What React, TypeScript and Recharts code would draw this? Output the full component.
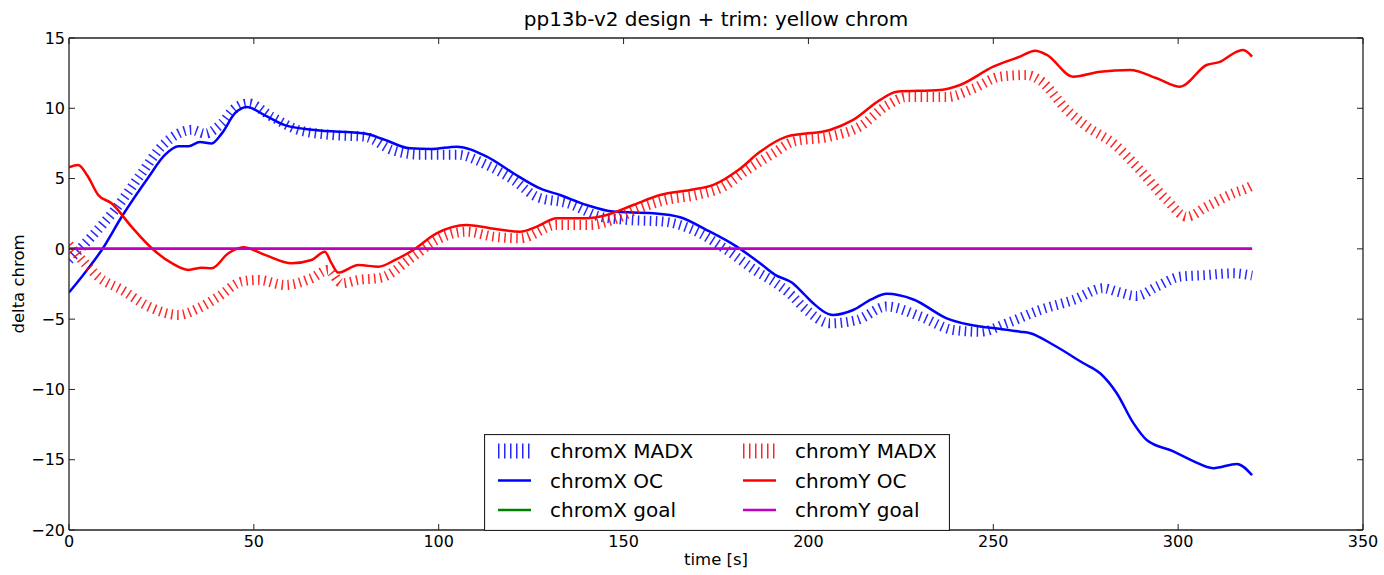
import React from "react";
import { LineChart, Line, XAxis, YAxis } from "recharts";

// axis ticks
const xTicks = [0, 50, 100, 150, 200, 250, 300, 350];
const yTicks = [-20, -15, -10, -5, 0, 5, 10, 15];

// chromX MADX (time, value)
const chromXMadxT = [0, 6.1, 12.4, 19.7, 25, 29.6, 33.2, 36.8, 41.3, 44.9, 48.5, 54.8, 62, 71, 80, 87.3, 95, 104.9, 113, 120.2, 126.5, 135, 143.6, 150.9, 160.8, 168.9, 177.9, 186, 191, 195, 199.5, 205.8, 213.1, 221.2, 230.2, 239.2, 246.4, 253.6, 262.6, 271.6, 279.8, 283.4, 288.8, 294.2, 300.5, 307.7, 314.9, 320];
const chromXMadx = [-0.8, 0.87, 2.77, 5.4, 7.27, 8.2, 8.46, 8.2, 8.93, 10.0, 10.35, 9.4, 8.46, 8.1, 7.98, 7.04, 6.7, 6.7, 5.97, 4.9, 3.7, 3.24, 2.3, 2.06, 1.94, 1.34, -0.08, -1.6, -2.4, -3.2, -4.35, -5.3, -5.06, -4.1, -4.8, -5.77, -5.9, -5.3, -4.35, -3.64, -2.8, -3.04, -3.35, -2.69, -1.98, -1.86, -1.74, -1.9];

// chromX OC
const chromXOcT = [0, 4, 8.8, 14.3, 21.5, 26, 29.6, 32.3, 35.4, 38.6, 41.3, 44.9, 48.1, 53, 58.4, 66.5, 80, 85, 92.2, 98, 104.9, 113, 120.2, 127.4, 132.8, 140, 147.2, 158, 165.3, 172.5, 180.6, 186.9, 191, 195.5, 198.6, 201.3, 206.7, 212.1, 217, 221.2, 228.4, 237.4, 246.4, 252, 257.2, 260, 266.3, 274.4, 278.9, 283.4, 287.9, 291.5, 298.7, 304.1, 309.5, 315.9, 320];
const chromXOc = [-3.1, -1.8, -0.1, 2.3, 5.1, 6.7, 7.3, 7.3, 7.6, 7.5, 8.2, 9.65, 10.1, 9.5, 8.8, 8.45, 8.2, 7.8, 7.15, 7.1, 7.27, 6.56, 5.38, 4.3, 3.83, 3.12, 2.65, 2.53, 2.25, 1.34, 0.16, -1.02, -1.85, -2.4, -3.16, -3.87, -4.7, -4.35, -3.6, -3.2, -3.6, -4.94, -5.53, -5.7, -5.89, -6.0, -6.84, -8.14, -8.85, -10.27, -12.4, -13.6, -14.4, -15.1, -15.6, -15.3, -16.1];

// chromY MADX
const chromYMadxT = [0, 4.3, 7.9, 14.3, 21.5, 29.6, 35, 40.4, 46.7, 51.2, 58.4, 65.6, 70.1, 73.8, 78.3, 84.3, 93.1, 99.4, 107.5, 114.8, 122, 131.9, 140.9, 147.2, 154.4, 161.6, 169.8, 177, 183.3, 190.5, 195.9, 205.8, 213.9, 221.2, 226.6, 237.4, 244.6, 251.8, 259, 262.6, 269.9, 275.3, 282.5, 289.7, 296.9, 302.3, 307.7, 314.9, 318.5, 320];
const chromYMadx = [0.3, -1.02, -1.98, -2.92, -4.1, -4.7, -4.23, -3.4, -2.33, -2.21, -2.57, -2.09, -1.5, -2.45, -2.21, -2.05, -0.55, 0.63, 1.22, 0.87, 0.75, 1.7, 1.7, 2.06, 2.89, 3.48, 3.83, 4.43, 5.6, 6.8, 7.63, 7.98, 8.7, 10.2, 10.8, 10.8, 11.4, 12.25, 12.37, 12.0, 9.88, 8.7, 7.5, 5.6, 3.48, 2.29, 3.0, 3.95, 4.3, 4.5];

// chromY OC
const chromYOcT = [0, 2.5, 5, 7.9, 11.5, 16.9, 22.4, 27.8, 32.3, 35.9, 38.6, 43.1, 47.2, 53, 60.2, 65.6, 69.2, 71, 72.8, 78.3, 83.7, 88.2, 93.1, 99.4, 107.5, 113.9, 122, 126.5, 131.9, 140, 145.4, 152.6, 159.9, 168, 174.3, 181.5, 186.9, 194.1, 205.8, 212.1, 219.4, 223.9, 235.6, 241, 250, 257.2, 261.3, 264.5, 271.6, 278.9, 287, 294.2, 300.5, 307.7, 311.3, 315.9, 317.6, 320];
const chromYOc = [5.8, 5.97, 5.2, 3.83, 3.24, 1.58, 0.04, -1.02, -1.5, -1.34, -1.38, -0.31, 0.11, -0.43, -1.02, -0.79, -0.2, -1.02, -1.69, -1.15, -1.27, -0.79, -0.08, 1.1, 1.7, 1.47, 1.22, 1.58, 2.18, 2.18, 2.41, 3.12, 3.83, 4.19, 4.55, 5.7, 6.9, 7.98, 8.46, 9.17, 10.6, 11.18, 11.3, 11.66, 12.96, 13.67, 14.1, 13.8, 12.25, 12.6, 12.73, 12.14, 11.54, 13.08, 13.3, 14.03, 14.15, 13.67];

// goals
const goalT = [0, 320];
const chromXGoal = [0, 0];
const chromYGoal = [0, 0];

const FONT = '"DejaVu Sans", sans-serif';
const FRAME = "#222";

const toPoints = (ts: number[], ys: number[]) => ts.map((t, i) => ({ t, y: ys[i] }));

const fmt = (v: number) => (v < 0 ? "\u2212" + Math.abs(v) : String(v));

const BottomTick = ({ x, y, payload }: any) => (
  <g>
    <line x1={x} x2={x} y1={y} y2={y - 6} stroke={FRAME} strokeWidth={1} />
    <text x={x} y={y + 17} textAnchor="middle" fontSize={16} fontFamily={FONT} fill="#000">
      {fmt(payload.value)}
    </text>
  </g>
);

const LeftTick = ({ x, y, payload }: any) => (
  <g>
    <line x1={x} x2={x + 6} y1={y} y2={y} stroke={FRAME} strokeWidth={1} />
    <text x={x - 4} y={y} dy="0.36em" textAnchor="end" fontSize={16} fontFamily={FONT} fill="#000">
      {fmt(payload.value)}
    </text>
  </g>
);

const TopTick = ({ x, y }: any) => <line x1={x} x2={x} y1={y} y2={y + 6} stroke={FRAME} strokeWidth={1} />;
const RightTick = ({ x, y }: any) => <line x1={x} x2={x - 6} y1={y} y2={y} stroke={FRAME} strokeWidth={1} />;

const legendRows = [
  { label: "chromX MADX", color: "#0000ff", hatch: true, col: 0, row: 0 },
  { label: "chromX OC", color: "#0000ff", hatch: false, col: 0, row: 1 },
  { label: "chromX goal", color: "#008000", hatch: false, col: 0, row: 2 },
  { label: "chromY MADX", color: "#ff0000", hatch: true, col: 1, row: 0 },
  { label: "chromY OC", color: "#ff0000", hatch: false, col: 1, row: 1 },
  { label: "chromY goal", color: "#bf00bf", hatch: false, col: 1, row: 2 },
];

function ChartLegend() {
  return (
    <svg width={466} height={97} style={{ position: "absolute", left: 484, top: 434 }}>
      <rect x={0.5} y={0.5} width={465} height={96} fill="#fff" stroke={FRAME} strokeWidth={1.2} />
      {legendRows.map((r) => {
        const hx = r.col === 0 ? 14 : 259;
        const cy = 17 + r.row * 29.5;
        return (
          <g key={r.label}>
            {r.hatch ? (
              <line x1={hx} x2={hx + 33} y1={cy} y2={cy} stroke={r.color} strokeWidth={15} strokeDasharray="1.5 4.5" strokeOpacity={0.85} />
            ) : (
              <line x1={hx} x2={hx + 33} y1={cy} y2={cy} stroke={r.color} strokeWidth={2.5} />
            )}
            <text x={hx + 52} y={cy} dy="0.36em" fontSize={20} fontFamily={FONT} fill="#000">
              {r.label}
            </text>
          </g>
        );
      })}
    </svg>
  );
}

export default function App() {
  return (
    <div style={{ position: "absolute", left: 0, top: 0, width: 1384, height: 575, background: "#fff", fontFamily: FONT }}>
      <LineChart width={1384} height={575} margin={{ top: 37, right: 20, left: 9, bottom: 15 }}>
        <XAxis
          dataKey="t"
          type="number"
          domain={[0, 350]}
          ticks={xTicks}
          interval={0}
          height={30}
          tickSize={0}
          tickMargin={0}
          tickLine={false}
          axisLine={{ stroke: FRAME, strokeWidth: 1.3 }}
          tick={BottomTick}
          allowDataOverflow
        />
        <XAxis
          xAxisId="top"
          orientation="top"
          dataKey="t"
          type="number"
          domain={[0, 350]}
          ticks={xTicks}
          interval={0}
          height={1}
          tickSize={0}
          tickMargin={0}
          tickLine={false}
          axisLine={{ stroke: FRAME, strokeWidth: 1.3 }}
          tick={TopTick}
          allowDataOverflow
        />
        <YAxis
          type="number"
          domain={[-20, 15]}
          ticks={yTicks}
          interval={0}
          width={60}
          tickSize={0}
          tickMargin={0}
          tickLine={false}
          axisLine={{ stroke: FRAME, strokeWidth: 1.3 }}
          tick={LeftTick}
          allowDataOverflow
        />
        <YAxis
          yAxisId="right"
          orientation="right"
          type="number"
          domain={[-20, 15]}
          ticks={yTicks}
          interval={0}
          width={1}
          tickSize={0}
          tickMargin={0}
          tickLine={false}
          axisLine={{ stroke: FRAME, strokeWidth: 1.3 }}
          tick={RightTick}
          allowDataOverflow
        />
        <Line data={toPoints(chromXMadxT, chromXMadx)} dataKey="y" type="monotone" stroke="#0000ff" strokeWidth={10} strokeDasharray="1.5 4.5" strokeOpacity={0.85} dot={false} isAnimationActive={false} />
        <Line data={toPoints(chromXOcT, chromXOc)} dataKey="y" type="monotone" stroke="#0000ff" strokeWidth={2.5} dot={false} isAnimationActive={false} />
        <Line xAxisId="top" yAxisId="right" data={toPoints(goalT, chromXGoal)} dataKey="y" type="linear" stroke="#008000" strokeWidth={2.5} dot={false} isAnimationActive={false} />
        <Line data={toPoints(chromYMadxT, chromYMadx)} dataKey="y" type="monotone" stroke="#ff0000" strokeWidth={10} strokeDasharray="1.5 4.5" strokeOpacity={0.85} dot={false} isAnimationActive={false} />
        <Line data={toPoints(chromYOcT, chromYOc)} dataKey="y" type="monotone" stroke="#ff0000" strokeWidth={2.5} dot={false} isAnimationActive={false} />
        <Line data={toPoints(goalT, chromYGoal)} dataKey="y" type="linear" stroke="#bf00bf" strokeWidth={2.5} dot={false} isAnimationActive={false} />
      </LineChart>
      <div style={{ position: "absolute", left: 0, width: 1384, top: 7, paddingLeft: 48, boxSizing: "border-box", textAlign: "center", fontSize: 20, color: "#000" }}>
        pp13b-v2 design + trim: yellow chrom
      </div>
      <div style={{ position: "absolute", left: 0, width: 1384, top: 550, paddingLeft: 48, boxSizing: "border-box", textAlign: "center", fontSize: 16.5, color: "#000" }}>
        time [s]
      </div>
      <div style={{ position: "absolute", left: 18, top: 284, transform: "translate(-50%, -50%) rotate(-90deg)", whiteSpace: "nowrap", fontSize: 16.5, color: "#000" }}>
        delta chrom
      </div>
      <ChartLegend />
    </div>
  );
}
